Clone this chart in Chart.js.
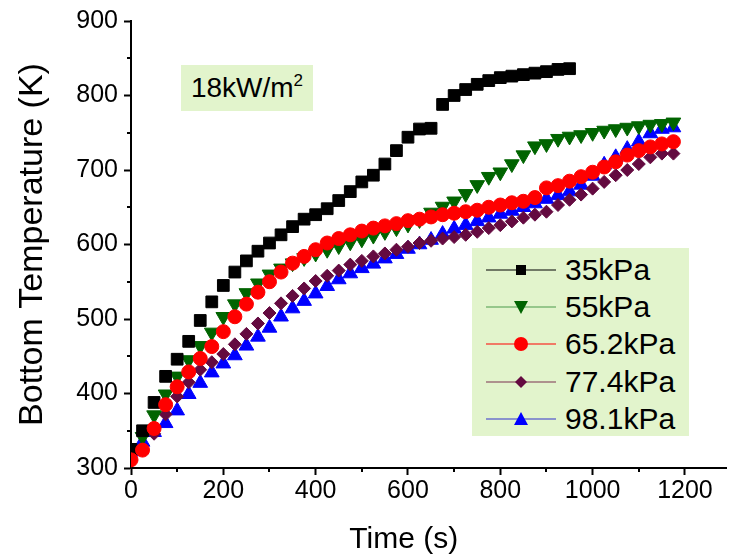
<!DOCTYPE html>
<html>
<head>
<meta charset="utf-8">
<script src="https://cdn.jsdelivr.net/npm/chart.js@4"></script>
<style>
    html, body { margin: 0; padding: 0; background: #fff; }
    #wrap { position: relative; width: 736px; height: 559px; font-family: "Liberation Sans", Arial, sans-serif; }
    #note { position: absolute; left: 181px; top: 65px; width: 132px; height: 46px; background: #e2f4cc;
            font-size: 28px; line-height: 46px; text-align: center; color: #000; }
    #note sup { font-size: 17px; vertical-align: 11px; line-height: 0; }
    #legend { position: absolute; left: 472px; top: 248px; width: 217px; height: 188px; background: #e2f4cc; }
    .row { position: absolute; left: 14px; height: 30px; display: flex; align-items: center; }
    .row span { font-size: 30px; margin-left: 9px; color: #000; }
</style>
</head>
<body>
<div id="wrap">
    <canvas id="tempChart" width="736" height="559"></canvas>
    <div id="note">18kW/m<sup>2</sup></div>
    <div id="legend"></div>
</div>
<script>
// time (s)
const times35 = [0, 25, 50, 75, 100, 125, 150, 175, 200, 225, 250, 275, 300, 325, 350, 375, 400, 425, 450, 475,
    500, 525, 550, 575, 600, 625, 650, 675, 700, 725, 750, 775, 800, 825, 850, 875, 900, 925, 950];
const timesLong = [0, 25, 50, 75, 100, 125, 150, 175, 200, 225, 250, 275, 300, 325, 350, 375, 400, 425, 450, 475,
    500, 525, 550, 575, 600, 625, 650, 675, 700, 725, 750, 775, 800, 825, 850, 875, 900, 925, 950, 975,
    1000, 1025, 1050, 1075, 1100, 1125, 1150, 1175];

// bottom temperature (K)
const temp35 = [325, 350, 388, 423, 446, 470, 498, 523, 545, 563, 578, 591, 602, 613, 624, 634, 640, 648, 659, 671,
    684, 693, 708, 726, 744, 755, 756, 788, 800, 808, 815, 820, 824, 826, 828, 830, 832, 835, 836];
const temp55 = [318, 342, 371, 399, 423, 445, 464, 482, 503, 520, 535, 548, 560, 568, 575, 582, 588, 593, 598, 603,
    607, 612, 617, 622, 627, 633, 643, 651, 658, 668, 680, 691, 697, 708, 720, 732, 735, 742, 745, 747,
    750, 753, 755, 757, 759, 761, 762, 764];
const temp65 = [311, 324, 353, 385, 409, 429, 447, 463, 483, 503, 520, 536, 550, 563, 575, 584, 593, 602, 608, 613,
    618, 622, 625, 628, 632, 634, 637, 640, 642, 644, 646, 650, 653, 656, 658, 663, 676, 679, 685, 691,
    697, 704, 711, 720, 726, 731, 735, 738];
const temp77 = [310, 324, 346, 372, 396, 415, 432, 442, 453, 466, 480, 494, 508, 521, 531, 541, 551, 558, 565, 573,
    578, 584, 588, 593, 597, 602, 605, 608, 610, 613, 617, 622, 626, 631, 636, 640, 644, 653, 660, 667,
    675, 684, 693, 700, 708, 717, 722, 722];
const temp98 = [322, 335, 348, 360, 377, 399, 414, 428, 440, 451, 464, 476, 488, 503, 514, 524, 534, 544, 553, 561,
    568, 574, 581, 587, 594, 600, 606, 614, 621, 626, 631, 636, 641, 645, 650, 655, 661, 666, 671, 680,
    692, 707, 717, 728, 738, 749, 755, 757];

const xTicksMinor = [100, 300, 500, 700, 900, 1100];
const yTicksMinor = [350, 450, 550, 650, 750, 850];

const FONT = '"Liberation Sans", Arial, sans-serif';
Chart.defaults.font.family = FONT;
Chart.defaults.color = '#000';

function pts(xs, ys) {
    return xs.map((t, i) => ({ x: t, y: ys[i] }));
}

const series = [
    { label: '35kPa',   xs: times35,   ys: temp35, color: '#000000', line: '#000000', style: 'rect',     r: 8.3, rot: 0,   order: 1 },
    { label: '55kPa',   xs: timesLong, ys: temp55, color: '#006400', line: '#4a9a4a', style: 'triangle', r: 8.5, rot: 180, order: 2 },
    { label: '65.2kPa', xs: timesLong, ys: temp65, color: '#ff0000', line: '#ff0000', style: 'circle',   r: 7,   rot: 0,   order: 0 },
    { label: '77.4kPa', xs: timesLong, ys: temp77, color: '#640a40', line: '#7a3050', style: 'rectRot',  r: 6.5, rot: 0,   order: 3 },
    { label: '98.1kPa', xs: timesLong, ys: temp98, color: '#0000ff', line: '#3333cc', style: 'triangle', r: 8.5, rot: 0,   order: 4 }
];

// small ticks between the labelled ones
const minorTicks = {
    id: 'minorTicks',
    afterDraw(chart) {
        const { ctx, scales: { x, y } } = chart;
        ctx.save();
        ctx.strokeStyle = '#000';
        ctx.lineWidth = 2;
        ctx.beginPath();
        xTicksMinor.forEach(v => {
            const px = Math.round(x.getPixelForValue(v));
            ctx.moveTo(px, y.bottom);
            ctx.lineTo(px, y.bottom + 4);
        });
        yTicksMinor.forEach(v => {
            const py = Math.round(y.getPixelForValue(v));
            ctx.moveTo(x.left, py);
            ctx.lineTo(x.left - 4, py);
        });
        ctx.stroke();
        ctx.restore();
    }
};

new Chart(document.getElementById('tempChart'), {
    type: 'scatter',
    data: {
        datasets: series.map(s => ({
            label: s.label,
            data: pts(s.xs, s.ys),
            showLine: false,
            order: s.order,
            pointStyle: s.style,
            pointRotation: s.rot,
            pointRadius: s.r,
            pointHoverRadius: s.r,
            pointBackgroundColor: s.color,
            pointBorderColor: s.color,
            pointBorderWidth: 1
        }))
    },
    options: {
        responsive: false,
        animation: false,
        layout: { padding: { top: 18, right: 0, bottom: 0, left: 0 } },
        plugins: {
            legend: { display: false },
            tooltip: { enabled: false }
        },
        scales: {
            x: {
                type: 'linear',
                min: 0,
                max: 1290,
                afterFit: s => { s.height = 91; },
                ticks: { stepSize: 200, includeBounds: false, maxRotation: 0, padding: 1,
                         color: '#000', font: { size: 25 }, callback: v => String(v) },
                grid: { drawOnChartArea: false, drawTicks: true, tickLength: 7, tickColor: '#000', tickWidth: 2 },
                border: { color: '#000', width: 2 },
                title: { display: true, text: 'Time (s)      ', color: '#000',
                         font: { size: 30 }, padding: { top: 0, bottom: 1 } }
            },
            y: {
                type: 'linear',
                min: 300,
                max: 900,
                afterFit: s => { s.width = 131; },
                ticks: { stepSize: 100, padding: 6, color: '#000', font: { size: 25 }, callback: v => String(v) },
                grid: { drawOnChartArea: false, drawTicks: true, tickLength: 7, tickColor: '#000', tickWidth: 2 },
                border: { color: '#000', width: 2 },
                title: { display: true, text: 'Bottom Temperature (K)', color: '#000',
                         font: { size: 34 }, padding: { top: 12, bottom: 0 } }
            }
        }
    },
    plugins: [minorTicks]
});

// legend: line - marker - line, then label
function markerSvg(s) {
    const c = s.color;
    let shape = '';
    if (s.style === 'rect') shape = `<rect x="30" y="10" width="10" height="10" fill="${c}"/>`;
    else if (s.style === 'circle') shape = `<circle cx="35" cy="15" r="7" fill="${c}"/>`;
    else if (s.style === 'rectRot') shape = `<polygon points="35,9 41,15 35,21 29,15" fill="${c}"/>`;
    else if (s.rot === 180) shape = `<polygon points="28,9 42,9 35,22" fill="${c}"/>`;
    else shape = `<polygon points="28,21 42,21 35,8" fill="${c}"/>`;
    return `<svg width="70" height="30"><line x1="0" y1="15" x2="70" y2="15" stroke="${s.line}" stroke-width="1"/>${shape}</svg>`;
}

const legendBox = document.getElementById('legend');
const rowTops = [7, 44, 81, 119, 156];
series.forEach((s, i) => {
    const row = document.createElement('div');
    row.className = 'row';
    row.style.top = rowTops[i] + 'px';
    row.innerHTML = `${markerSvg(s)}<span>${s.label}</span>`;
    legendBox.appendChild(row);
});
</script>
</body>
</html>
